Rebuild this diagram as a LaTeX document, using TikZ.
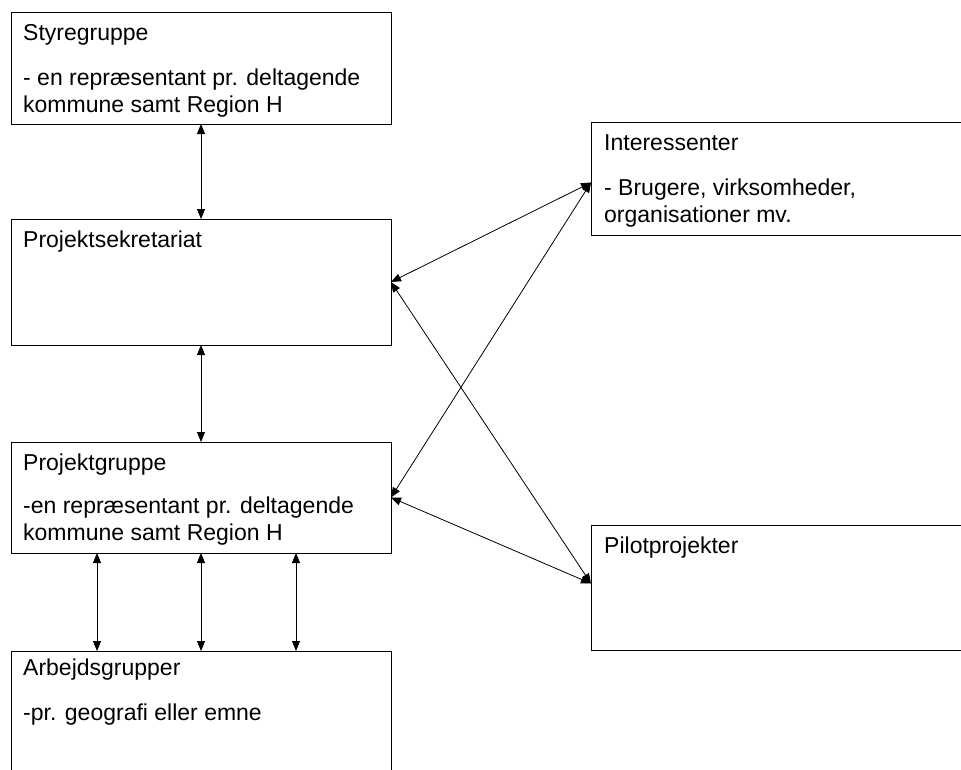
\documentclass[tikz,border=0pt]{standalone}
\usepackage{fontspec}
\setmainfont{Liberation Sans}
\usetikzlibrary{arrows.meta}
\begin{document}
\begin{tikzpicture}[x=1pt,y=-1pt,
  box/.style={draw=black,line width=0.9pt,rectangle,anchor=north west,inner sep=0pt,outer sep=0pt},
  txt/.style={anchor=base west,inner sep=0pt,font=\fontsize{23}{27}\selectfont},
  link/.style={line width=0.8pt,{Triangle[length=10pt,width=8pt]}-{Triangle[length=10pt,width=8pt]}}]
\useasboundingbox (0,0) rectangle (961,769);
\clip (0,0) rectangle (961,769);
% boxes
\node[box,minimum width=380pt,minimum height=112pt] (sty) at (11,12) {};
\node[box,minimum width=380pt,minimum height=126pt] (ps) at (11,219) {};
\node[box,minimum width=380pt,minimum height=111pt] (pg) at (11,442) {};
\node[box,minimum width=380pt,minimum height=140pt] (ag) at (11,651) {};
\node[box,minimum width=390pt,minimum height=113pt] (int) at (591,122) {};
\node[box,minimum width=390pt,minimum height=125pt] (pp) at (591,525) {};
% texts
\node[txt] (styA) at (23,40) {Styregruppe};
\node[txt] (styB) at (23,85) {- en repræsentant pr. deltagende};
\node[txt] (styC) at (23,112) {kommune samt Region H};
\node[txt] (psA) at (23,247) {Projektsekretariat};
\node[txt] (pgA) at (23,470) {Projektgruppe};
\node[txt] (pgB) at (23,513) {-en repræsentant pr. deltagende};
\node[txt] (pgC) at (23,540) {kommune samt Region H};
\node[txt] (agA) at (23,675) {Arbejdsgrupper};
\node[txt] (agB) at (23,720) {-pr. geografi eller emne};
\node[txt] (intA) at (604,150) {Interessenter};
\node[txt] (intB) at (604,195) {- Brugere, virksomheder,};
\node[txt] (intC) at (604,222) {organisationer mv.};
\node[txt] (ppA) at (604,553) {Pilotprojekter};
% connectors
\draw[link] (sty.south) -- (ps.north);
\draw[link] (ps.south) -- (pg.north);
\draw[link] ([xshift=-104pt]pg.south) -- ([xshift=-104pt]ag.north);
\draw[link] (pg.south) -- (ag.north);
\draw[link] ([xshift=95pt]pg.south) -- ([xshift=95pt]ag.north);
\draw[link] (ps.east) -- ([yshift=-4pt]int.west);
\draw[link] (pg.east) -- ([yshift=-4pt]int.west);
\draw[link] (ps.east) -- ([yshift=4pt]pp.west);
\draw[link] (pg.east) -- ([yshift=4pt]pp.west);
\end{tikzpicture}
\end{document}
